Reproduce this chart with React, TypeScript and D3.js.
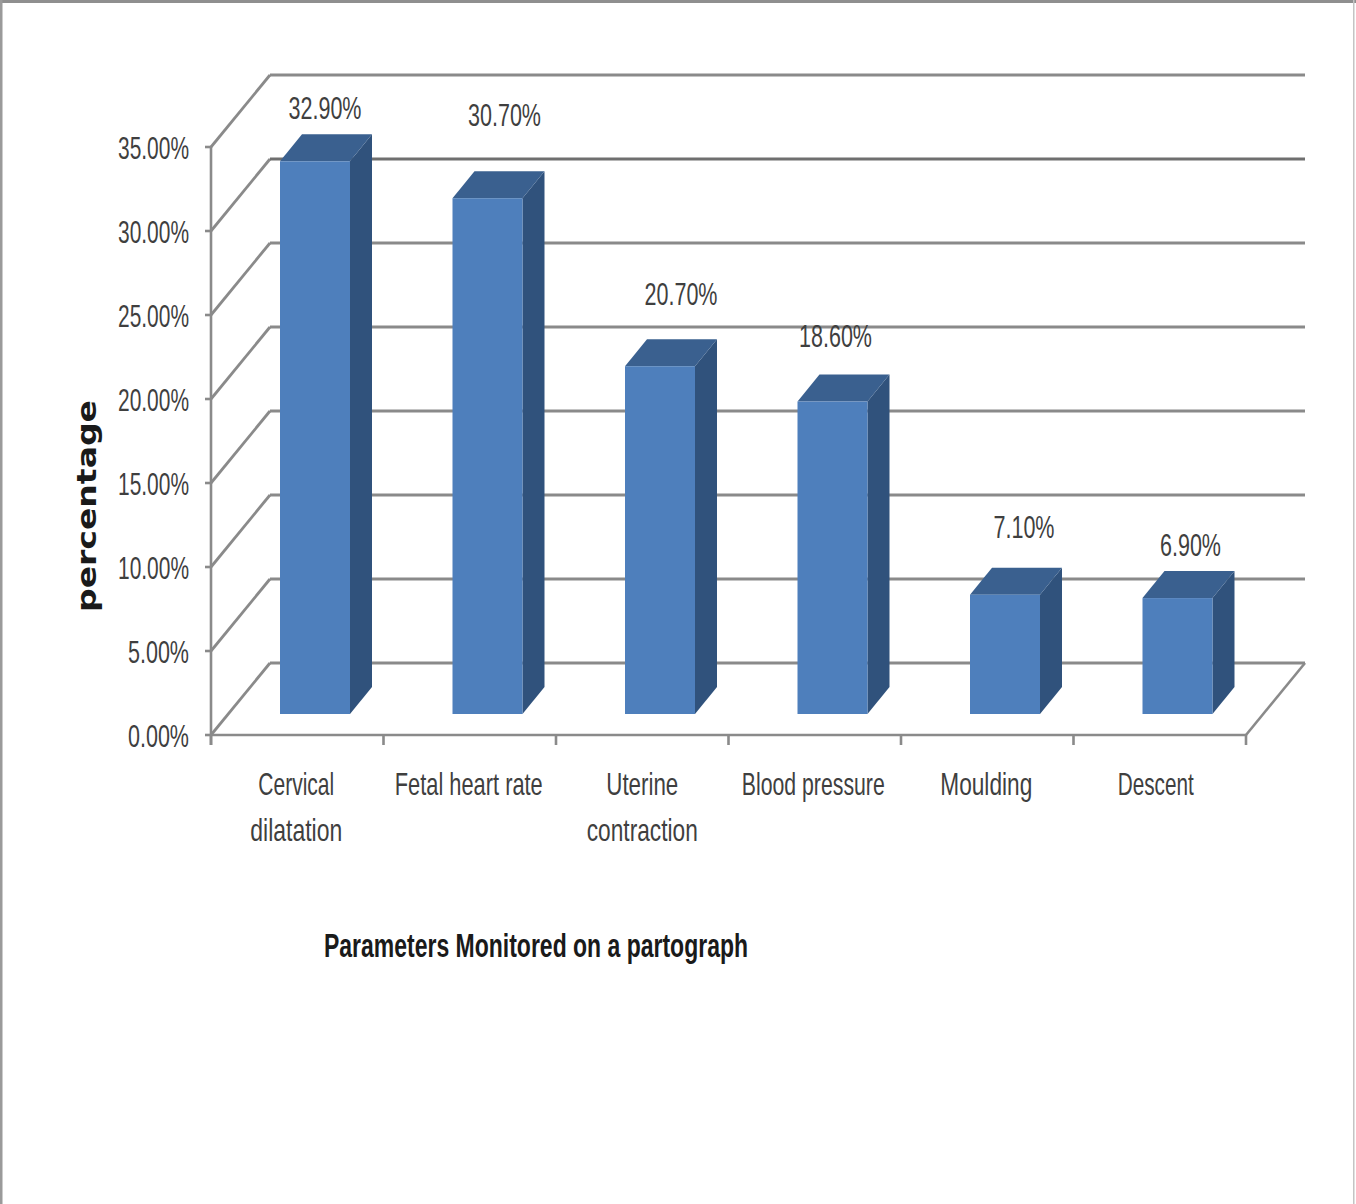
import React from "react";
import * as d3 from "d3";

// Share of partographs on which each parameter was monitored
const categories = ["Cervical dilatation", "Fetal heart rate", "Uterine contraction", "Blood pressure", "Moulding", "Descent"];
const categoryLines = [["Cervical", "dilatation"], ["Fetal heart rate"], ["Uterine", "contraction"], ["Blood pressure"], ["Moulding"], ["Descent"]];
const values = [32.9, 30.7, 20.7, 18.6, 7.1, 6.9];
const valueLabels = ["32.90%", "30.70%", "20.70%", "18.60%", "7.10%", "6.90%"];
const yTicks = [0, 5, 10, 15, 20, 25, 30, 35];

const WIDTH = 1356;
const HEIGHT = 1204;
const plot = { left: 211, right: 1246, bottom: 735, top: 147 };
const wall = { dx: 59, dy: -72 };
const bar = { inset: 69, width: 70, dx: 22, dy: -27, lift: 21 };

// Hand placement of the data labels relative to each bar's front face
const labelNudge = [[10, -52], [17, -82], [21, -71], [3, -65], [19, -67], [13, -52]];
const labelWidth = [73, 73, 73, 73, 61, 61];

// Fitted widths and horizontal nudges for the category label lines
const lineWidths = [[76, 92], [148], [72, 111], [143], [92], [76]];
const lineNudge = [0, 0, 1, -0.5, 0, -3];

const GRID = "#8a8a8a";
const TEXT = "#3f3f3f";
const NARROW = "'Liberation Sans Narrow','Liberation Sans',sans-serif";

const xScale = d3.scaleBand<string>().domain(categories).range([plot.left, plot.right]);
const yScale = d3.scaleLinear().domain([0, 35]).range([plot.bottom, plot.top]);
const poly = d3.line<[number, number]>();

export default function App() {
  const band = xScale.bandwidth();
  const edges = categories.map((c) => xScale(c) as number).concat(plot.right);
  return (
    <svg
      width={WIDTH}
      height={HEIGHT}
      viewBox={`0 0 ${WIDTH} ${HEIGHT}`}
      style={{ position: "absolute", left: 0, top: 0, background: "#fff" }}
    >
      {/* outer frame */}
      <rect x={0} y={0} width={WIDTH} height={3} fill="#8f8f8f" />
      <rect x={0} y={0} width={2.5} height={HEIGHT} fill="#9a9a9a" />
      <rect x={1353} y={0} width={1.5} height={HEIGHT} fill="#c4c4c4" />

      {/* back wall and side wall gridlines */}
      {yTicks.map((t) => {
        const y = yScale(t);
        const bx = plot.left + wall.dx;
        const by = y + wall.dy;
        return (
          <g key={t} fill="none" stroke={GRID} strokeWidth={2.8}>
            <line x1={plot.left} y1={y} x2={bx} y2={by} />
            <line x1={bx} y1={by} x2={plot.right + wall.dx} y2={by} stroke={t === 30 ? "#6f6f6f" : GRID} />
            <line x1={plot.left - 6} x2={plot.left} y1={y} y2={y} strokeWidth={2.6} />
          </g>
        );
      })}

      {/* floor edge and axes */}
      <g fill="none" stroke={GRID} strokeWidth={2.6}>
        <line x1={plot.left} x2={plot.right} y1={plot.bottom} y2={plot.bottom} />
        <line x1={plot.left} x2={plot.left} y1={plot.top} y2={plot.bottom + 10} />
        <line x1={plot.right} x2={plot.right + wall.dx} y1={plot.bottom} y2={plot.bottom + wall.dy} />
        {edges.map((x) => (
          <line key={x} x1={x} x2={x} y1={plot.bottom} y2={plot.bottom + 10} />
        ))}
      </g>

      {/* 3D columns */}
      {categories.map((c, i) => {
        const x0 = (xScale(c) as number) + bar.inset;
        const x1 = x0 + bar.width;
        const yb = yScale(0) - bar.lift;
        const yt = yScale(values[i]) - bar.lift;
        const side: [number, number][] = [[x1, yb], [x1 + bar.dx, yb + bar.dy], [x1 + bar.dx, yt + bar.dy], [x1, yt]];
        const top: [number, number][] = [[x0, yt], [x0 + bar.dx, yt + bar.dy], [x1 + bar.dx, yt + bar.dy], [x1, yt]];
        return (
          <g key={c}>
            <path d={poly(side) + "Z"} fill="#30527c" />
            <path d={poly(top) + "Z"} fill="#3a608f" />
            <rect x={x0} y={yt} width={bar.width} height={yb - yt} fill="#4e7fbc" />
          </g>
        );
      })}

      {/* data labels */}
      {categories.map((c, i) => {
        const x0 = (xScale(c) as number) + bar.inset;
        const yt = yScale(values[i]) - bar.lift;
        return (
          <text
            key={c}
            x={x0 + bar.width / 2 + labelNudge[i][0]}
            y={yt + labelNudge[i][1] + 10}
            textAnchor="middle"
            fontFamily={NARROW}
            fontSize={31}
            fill={TEXT}
            textLength={labelWidth[i]}
            lengthAdjust="spacingAndGlyphs"
          >
            {valueLabels[i]}
          </text>
        );
      })}

      {/* value axis labels */}
      {yTicks.map((t) => (
        <text
          key={t}
          x={189}
          y={yScale(t) + 12}
          textAnchor="end"
          fontFamily={NARROW}
          fontSize={31}
          fill={TEXT}
          textLength={t < 10 ? 61 : 71}
          lengthAdjust="spacingAndGlyphs"
        >
          {`${t.toFixed(2)}%`}
        </text>
      ))}

      {/* category labels */}
      {categories.map((c, i) => {
        const cx = (xScale(c) as number) + band / 2 - 1 + lineNudge[i];
        return (
          <g key={c}>
            {categoryLines[i].map((line, j) => (
              <text
                key={line}
                x={cx}
                y={795 + j * 46}
                textAnchor="middle"
                fontFamily={NARROW}
                fontSize={32}
                fill={TEXT}
                textLength={lineWidths[i][j]}
                lengthAdjust="spacingAndGlyphs"
              >
                {line}
              </text>
            ))}
          </g>
        );
      })}

      {/* axis titles */}
      <text
        x={536}
        y={957}
        textAnchor="middle"
        fontFamily={NARROW}
        fontSize={33}
        fontWeight={700}
        fill="#1a1a1a"
        textLength={424}
        lengthAdjust="spacingAndGlyphs"
      >
        Parameters Monitored on a partograph
      </text>
      <text
        transform="translate(96 506) rotate(-90)"
        textAnchor="middle"
        fontFamily="'DejaVu Sans',sans-serif"
        fontSize={27}
        fontWeight={700}
        fill="#1a1a1a"
        textLength={212}
        lengthAdjust="spacingAndGlyphs"
      >
        percentage
      </text>
    </svg>
  );
}
